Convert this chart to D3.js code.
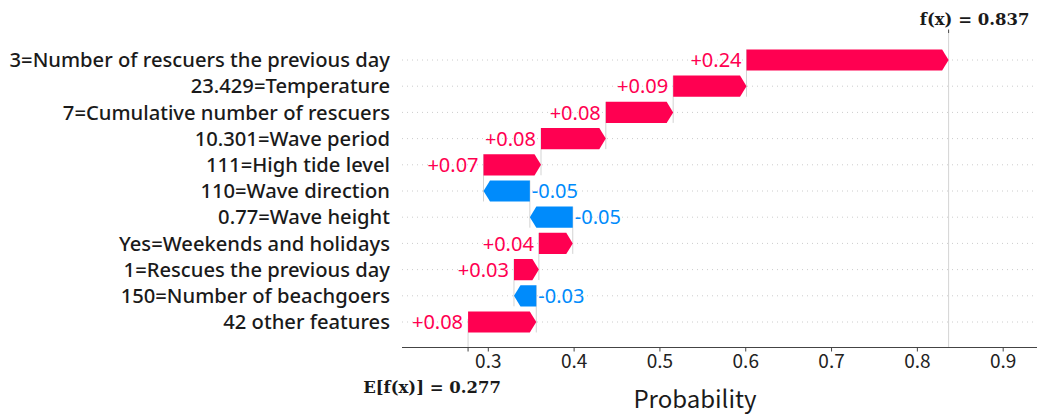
<!DOCTYPE html>
<html>
<head>
<meta charset="utf-8">
<script src="https://cdn.jsdelivr.net/npm/d3@7"></script>
<style>
  html, body { margin: 0; padding: 0; background: #fff; }
  svg { display: block; }
</style>
</head>
<body>
<svg id="chart" width="1037" height="414"></svg>
<script>
// Feature labels, top to bottom
const features = [
  "3=Number of rescuers the previous day",
  "23.429=Temperature",
  "7=Cumulative number of rescuers",
  "10.301=Wave period",
  "111=High tide level",
  "110=Wave direction",
  "0.77=Wave height",
  "Yes=Weekends and holidays",
  "1=Rescues the previous day",
  "150=Number of beachgoers",
  "42 other features"
];
// SHAP contribution of each feature (same order)
const shapValues = [0.2355, 0.0855, 0.0785, 0.0755, 0.067, -0.054, -0.050, 0.0395, 0.029, -0.026, 0.0795];
// Expected model output
const baseValue = 0.277;
// Bottom axis ticks
const xTicks = [0.3, 0.4, 0.5, 0.6, 0.7, 0.8, 0.9];
const xTitle = "Probability";

const POS = "#ff0051", NEG = "#008bfb";
const svg = d3.select("#chart");

const plotTop = 33, plotBottom = 347.5;
const x = d3.scaleLinear().domain([0.2, 0.94]).range([402, 1037]);
const y = d3.scalePoint().domain(d3.range(features.length)).range([60, 322]);
const step = y.step();
const halfH = 10.6;

// running totals, accumulated from the bottom row upwards
const n = features.length;
const start = new Array(n), end = new Array(n);
let acc = baseValue;
for (let i = n - 1; i >= 0; i--) {
  start[i] = acc;
  acc += shapValues[i];
  end[i] = acc;
}
const fx = acc;

// dotted row guides
svg.append("g").selectAll("line").data(d3.range(n)).join("line")
  .attr("x1", 402).attr("x2", 1037)
  .attr("y1", i => y(i)).attr("y2", i => y(i))
  .attr("stroke", "#cccccc").attr("stroke-width", 1)
  .attr("stroke-dasharray", "1,4");

// connectors between consecutive bars
const conn = svg.append("g").attr("stroke", "#c8c8c8").attr("stroke-width", 0.8);
for (let i = 0; i < n - 1; i++) {
  conn.append("line")
    .attr("x1", x(start[i])).attr("x2", x(start[i]))
    .attr("y1", y(i) - 0.4 * step).attr("y2", y(i + 1) + 0.4 * step);
}
// f(x) and E[f(x)] guides
conn.append("line").attr("x1", x(fx)).attr("x2", x(fx))
  .attr("y1", plotTop).attr("y2", plotBottom);
conn.append("line").attr("x1", x(baseValue)).attr("x2", x(baseValue))
  .attr("y1", plotBottom - (plotBottom - plotTop) / n).attr("y2", plotBottom);

// arrow-shaped bars
function arrow(i) {
  const xa = x(start[i]), xb = x(end[i]), c = y(i);
  const s = Math.sign(xb - xa);
  const hl = Math.min(6.5, Math.abs(xb - xa));
  const xn = xb - s * hl;
  return `M${xa},${c - halfH}L${xn},${c - halfH}L${xb},${c}L${xn},${c + halfH}L${xa},${c + halfH}Z`;
}
svg.append("g").selectAll("path").data(d3.range(n)).join("path")
  .attr("d", arrow)
  .attr("fill", i => shapValues[i] >= 0 ? POS : NEG);

// value labels
svg.append("g").selectAll("text").data(d3.range(n)).join("text")
  .attr("x", i => shapValues[i] >= 0 ? x(start[i]) - 5 : x(start[i]) + 2)
  .attr("y", i => y(i))
  .attr("dy", "0.36em")
  .attr("text-anchor", i => shapValues[i] >= 0 ? "end" : "start")
  .attr("fill", i => shapValues[i] >= 0 ? POS : NEG)
  .style("font-family", "'Noto Sans', sans-serif")
  .style("font-size", "20px")
  .text(i => (shapValues[i] >= 0 ? "+" : "-") + Math.abs(shapValues[i]).toFixed(2));

// feature labels
svg.append("g").selectAll("text").data(features).join("text")
  .attr("x", 390)
  .attr("y", (d, i) => y(i))
  .attr("dy", "0.36em")
  .attr("text-anchor", "end")
  .attr("fill", "#1a1a1a")
  .style("font-family", "'Noto Sans', sans-serif")
  .style("font-weight", "500")
  .style("font-size", "20.2px")
  .text(d => d);

// bottom axis
const axis = svg.append("g")
  .attr("transform", `translate(0,${plotBottom})`)
  .call(d3.axisBottom(x).tickValues(xTicks).tickSize(4).tickPadding(3)
    .tickFormat(d3.format(".1f")));
axis.select(".domain").attr("stroke", "#444").attr("d", `M402,0H1037`);
axis.selectAll(".tick line").attr("stroke", "#444");
axis.selectAll(".tick text")
  .attr("fill", "#222")
  .style("font-family", "'Noto Sans CJK JP', 'Noto Sans', sans-serif")
  .style("font-size", "19px");

// tick for E[f(x)]
svg.append("line").attr("x1", x(baseValue)).attr("x2", x(baseValue))
  .attr("y1", plotBottom).attr("y2", plotBottom + 4).attr("stroke", "#444");
// tick for f(x)
svg.append("line").attr("x1", x(fx)).attr("x2", x(fx))
  .attr("y1", plotTop - 3.5).attr("y2", plotTop).attr("stroke", "#444");

svg.append("text")
  .attr("x", 695).attr("y", 408)
  .attr("text-anchor", "middle")
  .attr("fill", "#1a1a1a")
  .style("font-family", "'Noto Sans CJK JP', 'Noto Sans', sans-serif")
  .style("font-size", "24px")
  .text(xTitle);

svg.append("text")
  .attr("x", x(fx) + 26).attr("y", 25)
  .attr("text-anchor", "middle")
  .attr("fill", "#1a1a1a")
  .style("font-family", "'DejaVu Serif', serif")
  .style("font-weight", "bold")
  .style("font-size", "16.5px")
  .text(`f(x) = ${fx.toFixed(3)}`);

svg.append("text")
  .attr("x", x(baseValue) - 36).attr("y", 393)
  .attr("text-anchor", "middle")
  .attr("fill", "#1a1a1a")
  .style("font-family", "'DejaVu Serif', serif")
  .style("font-weight", "bold")
  .style("font-size", "16.5px")
  .text(`E[f(x)] = ${baseValue.toFixed(3)}`);
</script>
</body>
</html>
